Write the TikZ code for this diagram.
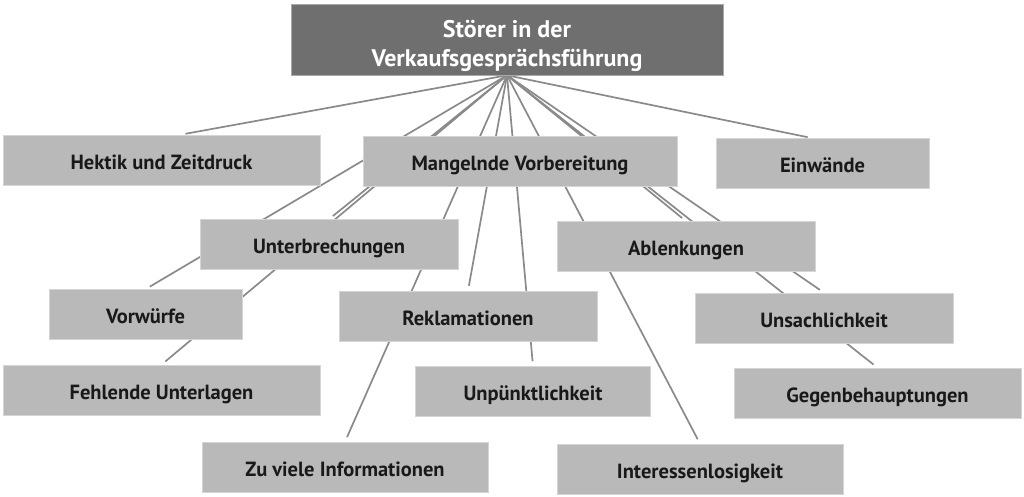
\documentclass[tikz,border=0pt]{standalone}
\usepackage{fontspec}
\setmainfont{PT Sans}
\usetikzlibrary{backgrounds}
\definecolor{boxgray}{HTML}{B9B9B9}
\definecolor{rootgray}{HTML}{6F6F6F}
\definecolor{linegray}{HTML}{8A8A8A}

\begin{document}
\begin{tikzpicture}[x=1pt,y=-1pt,
    box/.style={fill=boxgray,draw=boxgray!60!white,line width=0.6pt,inner sep=0pt,
      minimum height=50pt,text height=18pt,text depth=0pt,text=black!90,
      font=\fontsize{20.5}{24}\selectfont\bfseries},
    rootbox/.style={fill=rootgray,draw=rootgray!60!white,line width=0.6pt,inner sep=0pt,
      align=center,text depth=0pt,text=white,font=\fontsize{24}{29}\selectfont\bfseries},
    link/.style={draw=linegray,line width=1.7pt,shorten >=5pt}]
  \useasboundingbox (0,0) rectangle (1024,497);
  \node[rootbox,minimum width=432pt,minimum height=71pt] (root) at (507,39.5) {\rule{0pt}{26pt}Störer in der\\Verkaufsgesprächsführung};
  % first row
  \node[box,minimum width=317pt] (hektik) at (161.5,160) {Hektik und Zeitdruck};
  \node[box,minimum width=314pt] (mangel) at (520,161.5) {Mangelnde Vorbereitung};
  \node[box,minimum width=213pt] (einw) at (822.5,163.5) {Einwände};
  % second row
  \node[box,minimum width=258pt] (unter) at (329,244.5) {Unterbrechungen};
  \node[box,minimum width=258pt] (ablenk) at (686,246.5) {Ablenkungen};
  % third row
  \node[box,minimum width=193pt] (vorw) at (145.5,314.5) {Vorwürfe};
  \node[box,minimum width=258pt] (rekl) at (468,316) {Reklamationen};
  \node[box,minimum width=258pt] (unsach) at (824,318) {Unsachlichkeit};
  % fourth row
  \node[box,minimum width=317pt] (fehl) at (161.5,390) {Fehlende Unterlagen};
  \node[box,minimum width=235pt] (unp) at (533,391.5) {Unpünktlichkeit};
  \node[box,minimum width=287pt] (gegen) at (877.5,393) {Gegenbehauptungen};
  % bottom row
  \node[box,minimum width=286pt] (zuviel) at (345,467) {Zu viele Informationen};
  \node[box,minimum width=286pt] (inter) at (700,469) {Interessenlosigkeit};
  \begin{scope}[on background layer]
    \foreach \n in {vorw,fehl,unter,zuviel,rekl,unp,inter,ablenk,gegen,unsach}
      \draw[link] (root.south) -- (\n.north);
    \draw[link] (root.south) -- ([xshift=19pt]hektik.north);
    \draw[link] (root.south) -- ([xshift=-10pt]einw.north);
  \end{scope}
\end{tikzpicture}
\end{document}
